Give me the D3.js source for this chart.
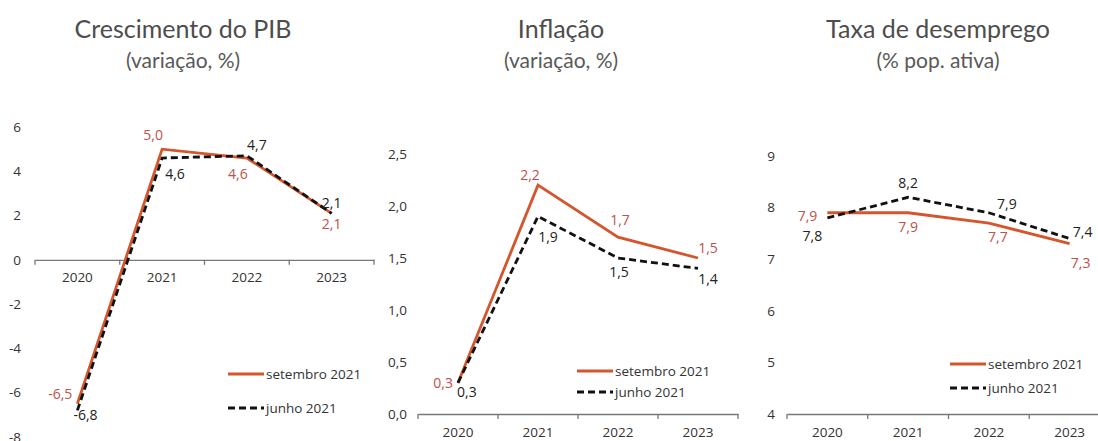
<!DOCTYPE html>
<html><head><meta charset="utf-8">
<script src="https://cdn.jsdelivr.net/npm/d3@7"></script>
<style>
body{margin:0;background:#fff;}
svg{display:block;font-family:"Open Sans","Noto Sans",sans-serif;}
</style></head>
<body>
<svg id="c" width="1098" height="441"></svg>
<script>
const categories = ["2020","2021","2022","2023"];
const seriesNames = ["setembro 2021","junho 2021"];

const pibSet = [-6.5, 5.0, 4.6, 2.1];
const pibJun = [-6.8, 4.6, 4.7, 2.1];
const inflSet = [0.3, 2.2, 1.7, 1.5];
const inflJun = [0.3, 1.9, 1.5, 1.4];
const desSet = [7.9, 7.9, 7.7, 7.3];
const desJun = [7.8, 8.2, 7.9, 7.4];

const pibTicks = [-8,-6,-4,-2,0,2,4,6];
const inflTicks = [0,0.5,1,1.5,2,2.5];
const desTicks = [4,5,6,7,8,9];

const titles = ["Crescimento do PIB","Inflação","Taxa de desemprego"];
const subtitles = ["(variação, %)","(variação, %)","(% pop. ativa)"];

const RED = "#d5552c", LRED = "#c0504d", BLK = "#111";
const svg = d3.select("#c");
const fmt = v => v.toFixed(1).replace(".", ",");

// panel definitions (layout only)
const panels = [
  {title:0, set:pibSet, jun:pibJun, ticks:pibTicks, tdec:0, dom:[-8,6], x0:35, x1:374, yTop:127, yBot:437, axisAt:0, labX:21, titleX:183,
   legX:228, legY1:374, legY2:408,
   offS:[[-5,-10,"end"],[-9,-14,"middle"],[-9,16,"middle"],[0,11,"middle"]],
   offJ:[[-4,5,"start"],[3,16,"start"],[10,-11,"middle"],[0,-10,"middle"]]},
  {title:1, set:inflSet, jun:inflJun, ticks:inflTicks, tdec:1, dom:[0,2.5], x0:418, x1:738, yTop:154, yBot:414, axisAt:0, labX:407, titleX:561,
   legX:577, legY1:371, legY2:392,
   offS:[[-5,0,"end"],[-8,-10,"middle"],[2,-17,"middle"],[10,-10,"middle"]],
   offJ:[[-1,9,"start"],[10,21,"middle"],[1,14,"middle"],[10,11,"middle"]]},
  {title:2, set:desSet, jun:desJun, ticks:desTicks, tdec:0, dom:[4,9], x0:787, x1:1110, yTop:156, yBot:414, axisAt:4, labX:775, titleX:938,
   legX:950, legY1:364, legY2:388,
   offS:[[-10,3,"end"],[0,14,"middle"],[9,14,"middle"],[11,19,"middle"]],
   offJ:[[-15,18,"middle"],[0,-14,"middle"],[18,-9,"middle"],[13,-6,"middle"]]}
];

panels.forEach(p => {
  const g = svg.append("g");
  g.append("text").attr("x", p.titleX).attr("y", 38).attr("text-anchor","middle")
    .attr("font-family","Lato, 'Open Sans', sans-serif")
    .attr("font-size", 25).attr("fill","#4d4d4d").text(titles[p.title]);
  g.append("text").attr("x", p.titleX).attr("y", 68).attr("text-anchor","middle")
    .attr("font-family","Lato, 'Open Sans', sans-serif")
    .attr("font-size", 21).attr("fill","#595959").text(subtitles[p.title]);

  const x = d3.scaleBand().domain(categories).range([p.x0, p.x1]);
  const y = d3.scaleLinear().domain(p.dom).range([p.yBot, p.yTop]);

  // y tick labels
  g.selectAll(".yl").data(p.ticks).join("text")
    .attr("x", p.labX).attr("y", d => y(d)).attr("dy","0.35em")
    .attr("text-anchor","end").attr("font-size", 13.5).attr("fill","#333")
    .text(d => p.tdec ? d.toFixed(1).replace(".", ",") : String(d));

  // x axis
  const ax = g.append("g").attr("transform", `translate(0,${y(p.axisAt)})`)
    .call(d3.axisBottom(x).tickSize(0).tickPadding(13));
  ax.select(".domain").attr("stroke","#777").attr("stroke-width",1.3);
  ax.selectAll("text").attr("font-size",13.5).attr("fill","#333").attr("font-family","'Open Sans',sans-serif");
  const bounds = categories.map(c => x(c)).concat([p.x1]);
  ax.selectAll(".bt").data(bounds).join("line")
    .attr("x1", d=>d).attr("x2", d=>d).attr("y1", 0).attr("y2", 5)
    .attr("stroke","#777").attr("stroke-width",1.3);

  const cx = c => x(c) + x.bandwidth()/2;
  const line = d3.line().x((d,i) => cx(categories[i])).y(d => y(d));

  g.append("path").datum(p.set).attr("d", line).attr("fill","none")
    .attr("stroke", RED).attr("stroke-width", 2.8).attr("stroke-linejoin","miter");
  g.append("path").datum(p.jun).attr("d", line).attr("fill","none")
    .attr("stroke", BLK).attr("stroke-width", 2.8).attr("stroke-dasharray","7,4");

  // data labels
  p.set.forEach((v,i) => {
    const o = p.offS[i];
    g.append("text").attr("x", cx(categories[i]) + o[0]).attr("y", y(v) + o[1]).attr("dy","0.35em")
      .attr("text-anchor", o[2]).attr("font-size", 14).attr("fill", LRED).text(fmt(v));
  });
  p.jun.forEach((v,i) => {
    const o = p.offJ[i];
    g.append("text").attr("x", cx(categories[i]) + o[0]).attr("y", y(v) + o[1]).attr("dy","0.35em")
      .attr("text-anchor", o[2]).attr("font-size", 14).attr("fill", "#222").text(fmt(v));
  });

  // legend
  g.append("line").attr("x1", p.legX).attr("x2", p.legX+36).attr("y1", p.legY1).attr("y2", p.legY1)
    .attr("stroke", RED).attr("stroke-width", 2.8);
  g.append("text").attr("x", p.legX+38).attr("y", p.legY1).attr("dy","0.35em")
    .attr("font-size", 13.5).attr("fill","#333").text(seriesNames[0]);
  g.append("line").attr("x1", p.legX).attr("x2", p.legX+36).attr("y1", p.legY2).attr("y2", p.legY2)
    .attr("stroke", BLK).attr("stroke-width", 2.8).attr("stroke-dasharray","7,4");
  g.append("text").attr("x", p.legX+38).attr("y", p.legY2).attr("dy","0.35em")
    .attr("font-size", 13.5).attr("fill","#333").text(seriesNames[1]);
});
</script>
</body></html>
